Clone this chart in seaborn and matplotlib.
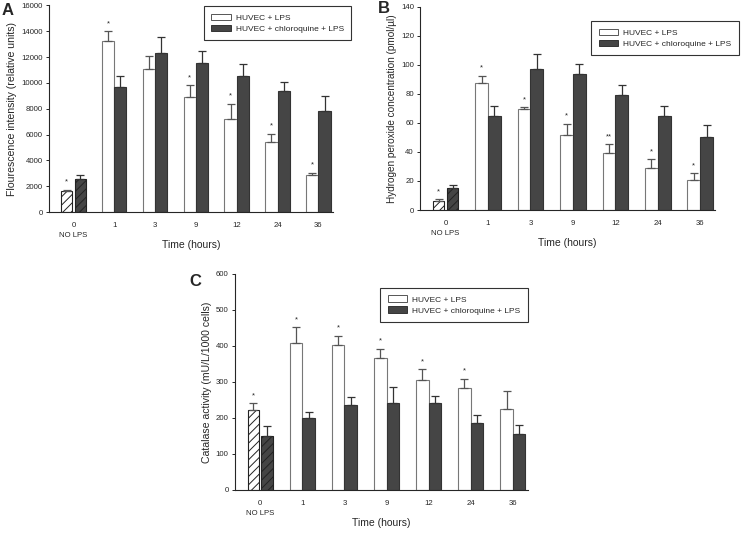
import pandas as pd
import seaborn as sns
import matplotlib.pyplot as plt
import numpy as np

# Data
times = ["0\nNO LPS", "1", "3", "9", "12", "24", "36"]
groups = ["HUVEC + LPS", "HUVEC + chloroquine + LPS"]

# Panel A - fluorescence intensity
fluo_lps = [1600, 13250, 11100, 8900, 7200, 5450, 2850]
fluo_lps_top = [1750, 14000, 12100, 9800, 8400, 6050, 3050]
fluo_chl = [2600, 9700, 12350, 11500, 10500, 9400, 7850]
fluo_chl_top = [2850, 10500, 13550, 12500, 11450, 10100, 9000]
fluo_stars = ["*", "*", "", "*", "*", "*", "*"]

# Panel B - hydrogen peroxide
h2o2_lps = [6, 87.5, 69.5, 52, 39, 29, 21]
h2o2_lps_top = [7.5, 92.5, 71, 59.5, 45.5, 35, 25.5]
h2o2_chl = [15.5, 65, 97, 93.5, 79, 65, 50]
h2o2_chl_top = [17, 72, 107.5, 100.5, 86, 72, 58.5]
h2o2_stars = ["*", "*", "*", "*", "**", "*", "*"]

# Panel C - catalase activity
cat_lps = [222, 407, 402, 366, 305, 284, 226]
cat_lps_top = [240, 452, 427, 392, 335, 308, 275]
cat_chl = [150, 200, 235, 242, 242, 187, 155]
cat_chl_top = [177, 216, 259, 285, 261, 209, 179]
cat_stars = ["*", "*", "*", "*", "*", "*", ""]

sns.set_style("ticks")
plt.rcParams['font.family'] = ['Liberation Sans', 'DejaVu Sans']
plt.rcParams['hatch.linewidth'] = 0.7

dark = "#454545"
fs = 5.6


def draw_panel(ax, lps, lps_top, chl, chl_top, stars, ymax, ystep, ylabel, ylabel_fs,
               letter, letter_xy, legend_box):
    df = pd.DataFrame({
        "time": times * 2,
        "group": [groups[0]] * len(times) + [groups[1]] * len(times),
        "value": lps + chl,
    })
    sns.barplot(data=df, x="time", y="value", hue="group", order=times, hue_order=groups,
                palette=["white", dark], width=0.6, errorbar=None, ax=ax,
                edgecolor="#777777", linewidth=0.8, legend=False)

    n = len(times)
    bars = ax.patches[:2 * n]
    tops = lps_top + chl_top
    for i, b in enumerate(bars):
        if i % n == 0:
            # the NO LPS group: hatched, slightly separated
            b.set_hatch("////")
            b.set_edgecolor("#222222")
            w = b.get_width()
            b.set_width(w * 0.9)
            if i >= n:
                b.set_x(b.get_x() + w * 0.1)
        elif i >= n:
            b.set_edgecolor("#333333")
        cx = b.get_x() + b.get_width() / 2
        h = b.get_height()
        ax.errorbar([cx], [h], yerr=[[0], [tops[i] - h]], fmt="none",
                    ecolor="#555555" if i < n else "#333333", elinewidth=0.9,
                    capsize=3.2, capthick=0.9)
        if i < n and stars[i]:
            ax.text(cx, tops[i] + ymax * 0.02, stars[i], ha="center", va="bottom",
                    fontsize=5.5)

    ax.set_ylim(0, ymax)
    ax.set_yticks(np.arange(0, ymax + 1, ystep))
    ax.set_xlim(-0.6, n - 0.65)
    ax.tick_params(axis="y", labelsize=fs, length=2.5, width=0.7, pad=2)
    ax.tick_params(axis="x", labelsize=fs, length=0, pad=7)
    for lab in ax.get_xticklabels():
        lab.set_linespacing(1.6)
    ax.set_xlabel("Time (hours)", fontsize=7.5, labelpad=1)
    ax.set_ylabel(ylabel, fontsize=ylabel_fs, labelpad=3)
    sns.despine(ax=ax)
    for s in ["left", "bottom"]:
        ax.spines[s].set_linewidth(0.8)

    handles = [plt.Rectangle((0, 0), 1, 1, facecolor="white", edgecolor="#555555", linewidth=0.7),
               plt.Rectangle((0, 0), 1, 1, facecolor=dark, edgecolor="#333333", linewidth=0.7)]
    leg = ax.legend(handles, groups, loc="upper right", bbox_to_anchor=legend_box,
                    fontsize=6, frameon=True, fancybox=False, edgecolor="black",
                    handlelength=2.3, handleheight=0.8, handletextpad=0.6,
                    borderpad=0.9, labelspacing=0.35, borderaxespad=0)
    leg.get_frame().set_linewidth(0.8)

    ax.text(letter_xy[0], letter_xy[1], letter, transform=ax.transAxes, fontsize=12,
            fontweight="bold", va="top", ha="left")


fig = plt.figure(figsize=(7.41, 5.33), dpi=100)
axA = fig.add_axes([0.066, 0.602, 0.383, 0.388])
axB = fig.add_axes([0.567, 0.606, 0.398, 0.381])
axC = fig.add_axes([0.317, 0.081, 0.395, 0.405])

draw_panel(axA, fluo_lps, fluo_lps_top, fluo_chl, fluo_chl_top, fluo_stars, 16000, 2000,
           "Flourescence intensity (relative units)", 7.6, "A", (-0.168, 1.012), (1.065, 0.995))
draw_panel(axB, h2o2_lps, h2o2_lps_top, h2o2_chl, h2o2_chl_top, h2o2_stars, 140, 20,
           "Hydrogen peroxide concentration (pmol/\u00b5l)", 7.2, "B", (-0.145, 1.028), (1.08, 0.93))
draw_panel(axC, cat_lps, cat_lps_top, cat_chl, cat_chl_top, cat_stars, 600, 100,
           "Catalase activity (mU/L/1000 cells)", 7.6, "C", (-0.154, 0.998), (1.0, 0.935))

fig.savefig("out.png", dpi=100)
